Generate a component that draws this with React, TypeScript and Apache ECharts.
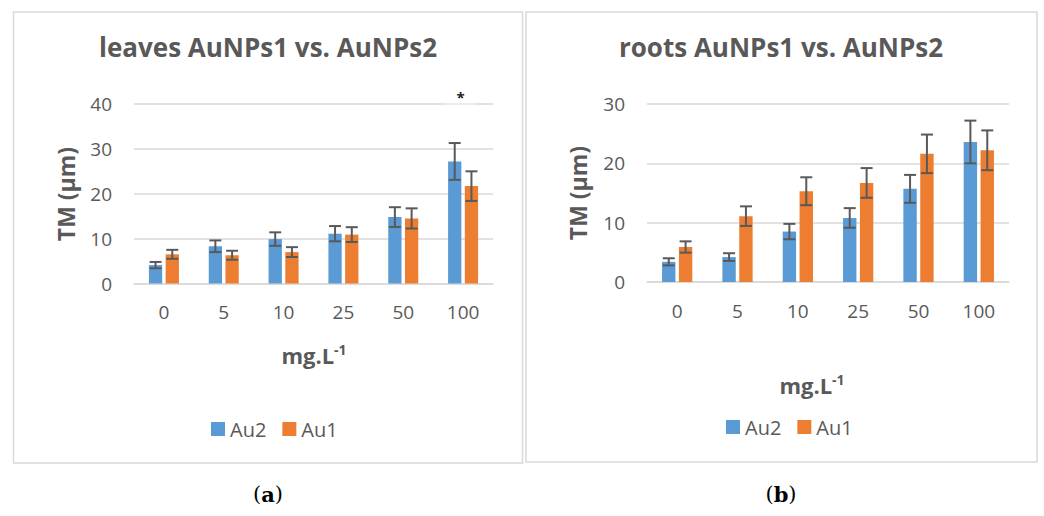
import React, { useEffect, useRef } from "react";
import * as echarts from "echarts";

const categories = ["0", "5", "10", "25", "50", "100"];
const seriesNames = ["Au2", "Au1"];

const leavesAu2 = [4.1, 8.3, 9.9, 11.1, 14.8, 27.2];
const leavesAu2Err = [0.7, 1.3, 1.5, 1.7, 2.2, 4.1];
const leavesAu1 = [6.5, 6.3, 7.0, 10.9, 14.5, 21.7];
const leavesAu1Err = [1.0, 1.0, 1.1, 1.65, 2.25, 3.3];

const rootsAu2 = [3.4, 4.2, 8.5, 10.8, 15.7, 23.6];
const rootsAu2Err = [0.6, 0.65, 1.3, 1.65, 2.35, 3.6];
const rootsAu1 = [5.9, 11.1, 15.3, 16.7, 21.6, 22.2];
const rootsAu1Err = [0.95, 1.65, 2.35, 2.5, 3.25, 3.35];

const leavesTicks = { min: 0, max: 40, interval: 10 };
const rootsTicks = { min: 0, max: 30, interval: 10 };

const BLUE = "#5B9BD5";
const ORANGE = "#ED7D31";
const TXT = "#595959";
const GRIDC = "#D9D9D9";
const FONT = "'Open Sans', 'Noto Sans', sans-serif";
const BAR_W = 0.222;
const BAR_GAP = 0.26;

function errSeries(vals: number[], errs: number[], side: number, axisIdx: number) {
  return {
    type: "custom",
    xAxisIndex: axisIdx,
    yAxisIndex: axisIdx,
    z: 5,
    silent: true,
    encode: { x: 0, y: 1 },
    data: vals.map((v, i) => [i, v, errs[i]]),
    renderItem: (params: any, api: any) => {
      const i = api.value(0);
      const v = api.value(1);
      const e = api.value(2);
      const hi = api.coord([i, v + e]);
      const lo = api.coord([i, v - e]);
      const band = api.size([1, 0])[0];
      const bw = band * BAR_W;
      const gap = bw * BAR_GAP;
      const cx = hi[0] + side * (bw + gap) / 2;
      const cap = 6;
      const style = { stroke: "#595959", lineWidth: 2 };
      return {
        type: "group",
        children: [
          { type: "line", shape: { x1: cx, y1: hi[1], x2: cx, y2: lo[1] }, style },
          { type: "line", shape: { x1: cx - cap, y1: hi[1], x2: cx + cap, y2: hi[1] }, style },
          { type: "line", shape: { x1: cx - cap, y1: lo[1], x2: cx + cap, y2: lo[1] }, style },
        ],
      };
    },
  };
}

function barSeries(name: string, vals: number[], color: string, axisIdx: number) {
  return {
    name,
    type: "bar",
    xAxisIndex: axisIdx,
    yAxisIndex: axisIdx,
    barWidth: `${BAR_W * 100}%`,
    barGap: `${BAR_GAP * 100}%`,
    itemStyle: { color },
    data: vals,
  };
}

function xAxis(gridIndex: number) {
  return {
    type: "category",
    gridIndex,
    data: categories,
    axisLine: { lineStyle: { color: GRIDC, width: 1.5 } },
    axisTick: { show: false },
    axisLabel: { color: TXT, fontSize: 19, fontFamily: FONT, margin: 19 },
  };
}

function yAxis(gridIndex: number, t: { min: number; max: number; interval: number }) {
  return {
    type: "value",
    gridIndex,
    min: t.min,
    max: t.max,
    interval: t.interval,
    axisLine: { show: false },
    axisTick: { show: false },
    splitLine: { lineStyle: { color: GRIDC, width: 1.5 } },
    axisLabel: { color: TXT, fontSize: 19, fontFamily: FONT, margin: 22 },
  };
}

function mgText(x: number, y: number) {
  return {
    type: "text",
    x,
    y,
    style: {
      text: "{b|mg.L}{s|-1}",
      align: "center",
      verticalAlign: "middle",
      rich: {
        b: { fontSize: 22, fontWeight: "bold", fill: TXT, fontFamily: FONT },
        s: { fontSize: 14, fontWeight: "bold", fill: TXT, fontFamily: FONT, verticalAlign: "top", padding: [0, 0, 12, 0] },
      },
    },
  };
}

function legend(left: number, top: number) {
  return {
    data: seriesNames,
    left,
    top,
    icon: "rect",
    itemWidth: 14,
    itemHeight: 14,
    itemGap: 16,
    textStyle: { color: TXT, fontSize: 20, fontFamily: FONT },
  };
}

export default function App() {
  const ref = useRef<HTMLDivElement>(null);
  useEffect(() => {
    document.body.style.margin = "0";
    if (!ref.current) return;
    const chart = echarts.init(ref.current, null, { renderer: "svg" });
    chart.setOption({
      animation: false,
      backgroundColor: "#fff",
      grid: [
        { left: 134, top: 104, width: 359, height: 179.5 },
        { left: 647, top: 104, width: 362, height: 178 },
      ],
      xAxis: [xAxis(0), xAxis(1)],
      yAxis: [yAxis(0, leavesTicks), yAxis(1, rootsTicks)],
      legend: [legend(206, 414), legend(721, 412)],
      graphic: [
        { type: "rect", shape: { x: 13.5, y: 12, width: 509, height: 451 }, style: { fill: "none", stroke: GRIDC, lineWidth: 1.5 } },
        { type: "rect", shape: { x: 526, y: 12, width: 511, height: 450 }, style: { fill: "none", stroke: GRIDC, lineWidth: 1.5 } },
        {
          type: "text", x: 268, y: 47,
          style: { text: "leaves AuNPs1 vs. AuNPs2", align: "center", verticalAlign: "middle", fontSize: 26, fontWeight: "bold", fill: TXT, fontFamily: FONT },
        },
        {
          type: "text", x: 781, y: 47,
          style: { text: "roots AuNPs1 vs. AuNPs2", align: "center", verticalAlign: "middle", fontSize: 26, fontWeight: "bold", fill: TXT, fontFamily: FONT },
        },
        {
          type: "text", x: 65.5, y: 194, rotation: Math.PI / 2,
          style: { text: "TM (µm)", align: "center", verticalAlign: "middle", fontSize: 23, fontWeight: "bold", fill: TXT, fontFamily: FONT },
        },
        {
          type: "text", x: 578, y: 193, rotation: Math.PI / 2,
          style: { text: "TM (µm)", align: "center", verticalAlign: "middle", fontSize: 23, fontWeight: "bold", fill: TXT, fontFamily: FONT },
        },
        mgText(314, 355),
        mgText(812, 385),
        { type: "rect", z: 10, shape: { x: 446, y: 102.5, width: 29, height: 3 }, style: { fill: "rgba(255,255,255,0.35)" } },
        {
          type: "text", x: 460.5, y: 97, z: 11,
          style: { text: "*", align: "center", verticalAlign: "middle", fontSize: 15, fontWeight: "bold", fill: "#222", fontFamily: FONT },
        },
        {
          type: "text", x: 268, y: 494,
          style: {
            text: "({a|a})", align: "center", verticalAlign: "middle", fontSize: 21, fill: "#000", fontFamily: "'DejaVu Serif', serif",
            rich: { a: { fontSize: 21, fontWeight: "bold", fill: "#000", fontFamily: "'DejaVu Serif', serif" } },
          },
        },
        {
          type: "text", x: 781, y: 494,
          style: {
            text: "({a|b})", align: "center", verticalAlign: "middle", fontSize: 21, fill: "#000", fontFamily: "'DejaVu Serif', serif",
            rich: { a: { fontSize: 21, fontWeight: "bold", fill: "#000", fontFamily: "'DejaVu Serif', serif" } },
          },
        },
      ],
      series: [
        barSeries("Au2", leavesAu2, BLUE, 0),
        barSeries("Au1", leavesAu1, ORANGE, 0),
        barSeries("Au2", rootsAu2, BLUE, 1),
        barSeries("Au1", rootsAu1, ORANGE, 1),
        errSeries(leavesAu2, leavesAu2Err, -1, 0),
        errSeries(leavesAu1, leavesAu1Err, 1, 0),
        errSeries(rootsAu2, rootsAu2Err, -1, 1),
        errSeries(rootsAu1, rootsAu1Err, 1, 1),
      ],
    });
    return () => chart.dispose();
  }, []);
  return <div ref={ref} style={{ width: 1044, height: 516 }} />;
}
